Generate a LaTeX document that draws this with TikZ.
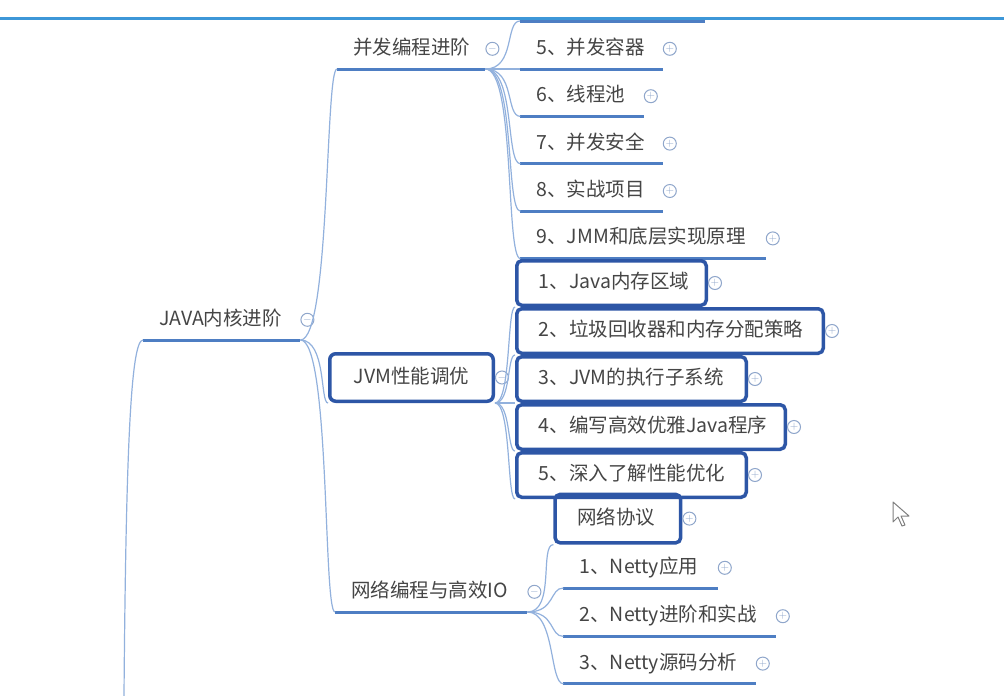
\documentclass[tikz,border=0pt]{standalone}
\usepackage{fontspec}
\newfontfamily\cjk{Noto Sans CJK SC}
\usetikzlibrary{positioning}
\definecolor{txtgray}{HTML}{454545}
\definecolor{ulblue}{HTML}{4E7EC3}
\definecolor{lnblue}{HTML}{92B1DD}
\definecolor{boxblue}{HTML}{2D56A6}
\definecolor{pmblue}{HTML}{8FA6CB}
\definecolor{barblue}{HTML}{3D97D8}
\tikzset{
  tnode/.style={font=\cjk\fontsize{19.5}{22}\selectfont,text=txtgray,align=left,
    text height=15pt,text depth=4pt},
  pm/.style={circle,draw=pmblue,line width=1pt,inner sep=0pt,minimum size=13pt,
    text width=,text height=,text depth=,text=pmblue,font=\fontsize{11}{11}\selectfont},
  uline/.style={draw=ulblue,line width=3pt},
  conn/.style={draw=lnblue,line width=1.2pt},
  branch/.style={tnode,inner xsep=16pt,inner ysep=10.5pt,text width=#1,
    append after command={(\tikzlastnode.south west) edge[uline] (\tikzlastnode.south east)},
    label distance=4.5pt,label={[pm]east:$-$}},
  leaf/.style={tnode,inner xsep=16pt,inner ysep=10.5pt,text width=#1,
    append after command={(\tikzlastnode.south west) edge[uline] (\tikzlastnode.south east)},
    label distance=5.5pt,label={[pm]east:$+$}},
  sel/.style={tnode,draw=boxblue,line width=3.5pt,rounded corners=5pt,inner xsep=22pt,
    inner ysep=12.75pt,text width=#1,label distance=-1pt,label={[pm]east:$+$}},
  selbranch/.style={tnode,draw=boxblue,line width=3.5pt,rounded corners=6pt,align=center,
    minimum width=#1,minimum height=47.5pt,label distance=-4pt,label={[pm]east:$-$}}
}
\begin{document}
\begin{tikzpicture}[x=1pt,y=-1pt]
\useasboundingbox (0,0) rectangle (1004,696);
\fill[white] (0,0) rectangle (1004,696);

\node[branch=125pt,anchor=south west] at (143,340) (java) {JAVA内核进阶};
\node[branch=116pt,anchor=south west] at (337,69) (con) {并发编程进阶};
\node[selbranch=163.5pt,anchor=south west] at (328,403) (jvm) {JVM性能调优};
\node[branch=160pt,anchor=south west] at (335,612) (net) {网络编程与高效IO};

% 并发编程进阶
\coordinate (c4w) at (520,21);
\coordinate (c4e) at (705,21);
\node[leaf=110pt,right=35pt of con.south east,anchor=south west] (c5) {5、并发容器};
\node[leaf=91pt,below=7pt of c5.south west,anchor=north west] (c6) {6、线程池};
\node[leaf=110pt,below=7pt of c6.south west,anchor=north west] (c7) {7、并发安全};
\node[leaf=110pt,below=7pt of c7.south west,anchor=north west] (c8) {8、实战项目};
\node[leaf=213pt,below=7pt of c8.south west,anchor=north west] (c9) {9、JMM和底层实现原理};

% JVM性能调优
\node[sel=185.5pt,right=20pt of jvm.south east,anchor=south west] (j3) {3、JVM的执行子系统};
\node[sel=262.5pt,above=0pt of j3.north west,anchor=south west] (j2) {2、垃圾回收器和内存分配策略};
\node[sel=145.5pt,above=0pt of j2.north west,anchor=south west] (j1) {1、Java内存区域};
\node[sel=224.5pt,below=0pt of j3.south west,anchor=north west] (j4) {4、编写高效优雅Java程序};
\node[sel=185.5pt,below=0pt of j4.south west,anchor=north west] (j5) {5、深入了解性能优化};

% 网络编程与高效IO
\node[leaf=122pt,above right=24pt and 36pt of net.south east,anchor=south west] (n1) {1、Netty应用};
\node[leaf=180pt,below=8pt of n1.south west,anchor=north west] (n2) {2、Netty进阶和实战};
\node[leaf=160pt,below=7pt of n2.south west,anchor=north west] (n3) {3、Netty源码分析};
\node[sel=81.5pt,inner ysep=14.75pt,above left=3pt and 10pt of n1.north west,anchor=south west] (n0) {网络协议};

% connectors
\coordinate (up) at (124,696);
\draw[conn] (up) .. controls +(2,-250) and +(-12,0) .. (java.south west);
\draw[conn] (java.south east) .. controls +(30,0) and +(-12,0) .. (con.south west);
\draw[conn] (java.south east) .. controls +(26,0) and +(-8,0) .. (jvm.south west);
\draw[conn] (java.south east) .. controls +(30,0) and +(-12,0) .. (net.south west);
\draw[conn] (con.south east) .. controls +(30,0) and +(-15,0) .. (c4w);
\draw[conn] (con.south east) -- (c5.south west);
\draw[conn] (con.south east) .. controls +(30,0) and +(-15,0) .. (c6.south west);
\draw[conn] (con.south east) .. controls +(30,0) and +(-15,0) .. (c7.south west);
\draw[conn] (con.south east) .. controls +(30,0) and +(-15,0) .. (c8.south west);
\draw[conn] (con.south east) .. controls +(30,0) and +(-15,0) .. (c9.south west);
\draw[conn] (jvm.south east) .. controls +(16,0) and +(-8,0) .. (j1.south west);
\draw[conn] (jvm.south east) .. controls +(16,0) and +(-8,0) .. (j2.south west);
\draw[conn] (jvm.south east) -- (j3.south west);
\draw[conn] (jvm.south east) .. controls +(16,0) and +(-8,0) .. (j4.south west);
\draw[conn] (jvm.south east) .. controls +(16,0) and +(-8,0) .. (j5.south west);
\draw[conn] (net.south east) .. controls +(28,0) and +(-14,0) .. (n0.south west);
\draw[conn] (net.south east) .. controls +(28,0) and +(-14,0) .. (n1.south west);
\draw[conn] (net.south east) .. controls +(28,0) and +(-14,0) .. (n2.south west);
\draw[conn] (net.south east) .. controls +(28,0) and +(-14,0) .. (n3.south west);
\draw[uline] (c4w) -- (c4e);

% window bar and pointer
\coordinate (barl) at (0,18);
\coordinate (barr) at (1004,18);
\draw[barblue,line width=3pt] (barl) -- (barr);
\draw[fill=white,draw=gray,line width=1pt,line join=round]
  (893,502) -- (893,522) -- (898,517) -- (902,526) -- (905,525) -- (901,516) -- (909,516) -- cycle;
\end{tikzpicture}
\end{document}
